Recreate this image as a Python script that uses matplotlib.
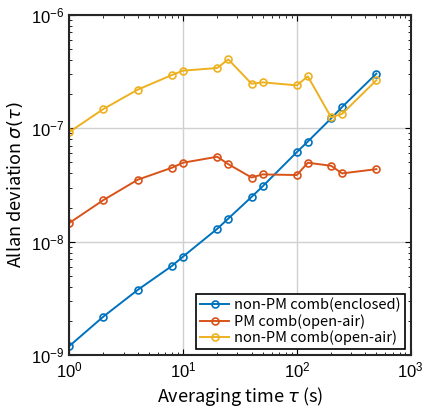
import numpy as np
import matplotlib.pyplot as plt
from matplotlib.ticker import LogLocator, NullFormatter

plt.rcParams['font.family'] = ['Liberation Sans', 'DejaVu Sans']
plt.rcParams['mathtext.fontset'] = 'dejavusans'

tau = [1, 2, 4, 8, 10, 20, 25, 40, 50, 100, 125, 200, 250, 500]
enclosed = [1.2e-9, 2.19e-9, 3.76e-9, 6.12e-9, 7.39e-9, 1.30e-8, 1.60e-8,
            2.48e-8, 3.07e-8, 6.16e-8, 7.64e-8, 1.22e-7, 1.54e-7, 3.03e-7]
pm_open = [1.46e-8, 2.33e-8, 3.52e-8, 4.49e-8, 4.97e-8, 5.61e-8, 4.83e-8,
           3.68e-8, 3.92e-8, 3.87e-8, 4.97e-8, 4.67e-8, 4.0e-8, 4.36e-8]
nonpm_open = [9.25e-8, 1.48e-7, 2.19e-7, 2.95e-7, 3.22e-7, 3.40e-7, 4.05e-7,
              2.47e-7, 2.54e-7, 2.39e-7, 2.87e-7, 1.25e-7, 1.34e-7, 2.65e-7]
labels = ['non-PM comb(enclosed)', 'PM comb(open-air)', 'non-PM comb(open-air)']
colors = ['#0072BD', '#D95319', '#EDB120']

jp = ['Noto Sans CJK JP', 'DejaVu Sans']

fig = plt.figure(figsize=(4.22, 4.12), dpi=100)
ax = fig.add_axes([0.164, 0.138, 0.809, 0.826])

for ys, lab, c in zip([enclosed, pm_open, nonpm_open], labels, colors):
    ax.plot(tau, ys, '-o', color=c, lw=1.4, ms=5, mfc='none', mew=1.2, label=lab)

ax.set_xscale('log')
ax.set_yscale('log')
ax.set_xlim(1, 1000)
ax.set_ylim(1e-9, 1e-6)
ax.xaxis.set_minor_locator(LogLocator(base=10, subs=np.arange(2, 10)))
ax.yaxis.set_minor_locator(LogLocator(base=10, subs=np.arange(2, 10)))
ax.xaxis.set_minor_formatter(NullFormatter())
ax.yaxis.set_minor_formatter(NullFormatter())
ax.grid(True, which='major', color='#d0d0d0', lw=1)
ax.set_axisbelow(True)
ax.tick_params(which='both', direction='in', top=True, right=True, labelsize=12)
ax.tick_params(which='major', length=4)
ax.tick_params(which='minor', length=2)
for s in ax.spines.values():
    s.set_linewidth(1.5)
    s.set_color('#262626')

ax.set_xlabel(r'Averaging time $\tau$ (s)', fontsize=13, family=jp)
ax.set_ylabel(r'Allan deviation $\sigma(\tau)$', fontsize=13, family=jp)

leg = ax.legend(loc='lower right', fontsize=10.5, prop={'family': jp, 'size': 10.5},
                fancybox=False, edgecolor='black', framealpha=1,
                borderaxespad=0.4, handlelength=2.0, handletextpad=0.3,
                labelspacing=0.1, borderpad=0.3)
leg.get_frame().set_linewidth(1.2)

fig.savefig('out.png', dpi=100)
